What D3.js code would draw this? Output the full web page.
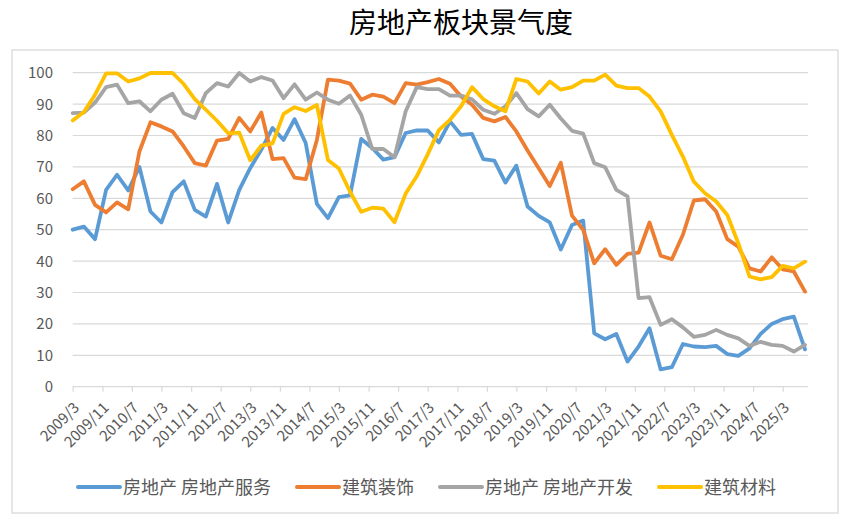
<!DOCTYPE html>
<html>
<head>
<meta charset="utf-8">
<script src="https://cdn.jsdelivr.net/npm/d3@7"></script>
<style>
  body { margin: 0; background: #fff; }
  text { font-family: "Noto Sans CJK SC", "Noto Sans", sans-serif; }
</style>
</head>
<body>
<div id="chart"></div>
<script>
// 房地产板块景气度 - quarterly readings, 2009/3 .. 2025/9
var title = "房地产板块景气度"
var startMonth = "2009/3"

var seriesNames = ["房地产 房地产服务", "建筑装饰", "房地产 房地产开发", "建筑材料"]
var seriesColors = ["#5b9bd5", "#ed7d31", "#a5a5a5", "#ffc000"]

var realEstateService = [50, 51, 47, 62.7, 67.5, 62.5, 70, 55.8, 52.3, 62, 65.4, 56.3, 54.2, 64.6, 52.3, 62.7, 69.6,
    75.5, 82.4, 78.6, 85.2, 77.6, 58.2, 53.7, 60.4, 60.9, 78.9, 76, 72.3, 73.1, 80.8, 81.6, 81.6, 77.8, 84.5, 80.2,
    80.5, 72.5, 72, 65, 70.4, 57.4, 54.4, 52.3, 43.7, 51.5, 52.9, 17, 15.1, 16.8, 8, 12.8, 18.6, 5.5, 6.2, 13.6, 12.8,
    12.6, 13, 10.4, 9.8, 12.2, 16.8, 20, 21.5, 22.3, 11.9]
var construction = [62.9, 65.4, 57.9, 55.5, 58.7, 56.5, 74.9, 84.2, 82.9, 81.3, 76.5, 71.2, 70.4, 78.4, 78.9, 85.6, 81.3,
    87.3, 72.5, 72.8, 66.6, 66.1, 78.6, 97.8, 97.5, 96.5, 91.4, 93, 92.4, 90.3, 96.7, 96.2, 97, 98, 96.5, 92.4, 89.8,
    85.6, 84.5, 85.9, 81.3, 75.2, 69.6, 63.9, 71.3, 54.5, 50, 39.3, 43.8, 38.8, 42.3, 42.7, 52.3, 41.7, 40.6, 48.4,
    59.3, 59.7, 55.8, 47, 44.6, 37.7, 36.7, 41.2, 37.4, 36.7, 30.3]
var realEstateDev = [87.1, 87.3, 90.5, 95.4, 96.2, 90.3, 90.9, 87.7, 91.4, 93.3, 87.1, 85.6, 93.5, 96.7, 95.6, 99.9, 97.2,
    98.6, 97.5, 91.9, 96.3, 91.4, 93.7, 91.4, 90.1, 92.7, 86.6, 75.7, 75.7, 73.1, 87.7, 95.4, 94.8, 94.8, 92.7, 92.7,
    91.5, 88.2, 86.9, 89.3, 93.5, 88.4, 86.1, 89.8, 85.4, 81.5, 80.6, 71.2, 69.9, 62.7, 60.6, 28.2, 28.5, 19.7, 21.5,
    18.9, 15.9, 16.5, 18.1, 16.5, 15.4, 13, 14.3, 13.3, 13, 11.2, 13.3]
var buildingMaterials = [84.8, 87.5, 93, 99.8, 99.8, 97.2, 98.2, 99.9, 99.9, 99.9, 96.4, 91.6, 88.2, 84.7, 80.7, 80.9, 72.1,
    76.8, 77.5, 86.9, 89, 87.8, 89.7, 72.2, 69.5, 62.1, 55.7, 57, 56.7, 52.4, 61.5, 67, 74, 81.7, 85, 89.3, 95.4, 91.6,
    89.3, 87.7, 98, 97.2, 93.4, 97.2, 94.6, 95.4, 97.5, 97.5, 99.4, 95.9, 95.1, 95.1, 92.4, 87.7, 80.2, 73.3, 65.3,
    61.6, 59, 54.7, 45.7, 35.1, 34.2, 34.9, 38.5, 37.7, 39.8]

var tickLabels = ["2009/3", "2009/11", "2010/7", "2011/3", "2011/11", "2012/7", "2013/3", "2013/11", "2014/7",
    "2015/3", "2015/11", "2016/7", "2017/3", "2017/11", "2018/7", "2019/3", "2019/11", "2020/7", "2021/3",
    "2021/11", "2022/7", "2023/3", "2023/11", "2024/7", "2025/3"]
var yTicks = [0, 10, 20, 30, 40, 50, 60, 70, 80, 90, 100]

var allSeries = [realEstateService, construction, realEstateDev, buildingMaterials]

var svgSize = { width: 850, height: 520 }
var plot = { left: 72.7, right: 805, top: 72.7, bottom: 386.7, gridRight: 808 }

var parseMonth = d3.timeParse("%Y/%m")
var start = parseMonth(startMonth)
var dates = realEstateService.map((d, i) => d3.timeMonth.offset(start, 3 * i))

var svg = d3.select("#chart").append("svg")
    .attr("width", svgSize.width)
    .attr("height", svgSize.height)

// outer frame
svg.append("rect")
    .attr("x", 12).attr("y", 50)
    .attr("width", 826).attr("height", 463)
    .attr("fill", "none")
    .attr("stroke", "#d9d9d9")
    .attr("stroke-width", 1.3)

svg.append("text")
    .attr("x", 461).attr("y", 32.5)
    .attr("text-anchor", "middle")
    .attr("font-size", 28)
    .attr("fill", "#000")
    .text(title)

var xScale = d3.scaleTime()
    .domain([dates[0], dates[dates.length - 1]])
    .range([plot.left, plot.right])
var yScale = d3.scaleLinear()
    .domain([0, 100])
    .range([plot.bottom, plot.top])

// gridlines + y labels
var grid = svg.append("g")
grid.selectAll("line").data(yTicks.slice(1)).enter().append("line")
    .attr("x1", plot.left).attr("x2", plot.gridRight)
    .attr("y1", d => yScale(d)).attr("y2", d => yScale(d))
    .attr("stroke", "#d9d9d9")
    .attr("stroke-width", 1.2)

svg.append("g").selectAll("text").data(yTicks).enter().append("text")
    .attr("x", 53)
    .attr("y", d => yScale(d) + 5.5)
    .attr("text-anchor", "end")
    .attr("font-size", 15)
    .attr("fill", "#595959")
    .text(d => d)

// x axis
var xAxis = d3.axisBottom(xScale)
    .tickValues(tickLabels.map(parseMonth))
    .tickSize(5)
    .tickSizeOuter(0)
    .tickFormat((d, i) => tickLabels[i])

var xg = svg.append("g")
    .attr("transform", `translate(0, ${plot.bottom})`)
    .call(xAxis)
xg.select(".domain")
    .attr("d", `M${plot.left},0H${plot.gridRight}`)
    .attr("stroke", "#d9d9d9")
    .attr("stroke-width", 1.3)
xg.selectAll(".tick line").attr("stroke", "#d9d9d9").attr("stroke-width", 1.2)
xg.selectAll(".tick text")
    .attr("font-family", "'Noto Sans CJK SC', sans-serif")
    .attr("font-size", 15)
    .attr("fill", "#595959")
    .attr("text-anchor", "end")
    .attr("dy", null)
    .attr("y", null)
    .attr("transform", "translate(7, 22) rotate(-45)")

// lines
var line = d3.line()
    .x((d, i) => xScale(dates[i]))
    .y(d => yScale(d))

var lines = svg.append("g")
lines.selectAll("path").data(allSeries).enter().append("path")
    .attr("d", d => line(d))
    .attr("fill", "none")
    .attr("stroke", (d, i) => seriesColors[i])
    .attr("stroke-width", 3.8)
    .attr("stroke-linejoin", "round")
    .attr("stroke-linecap", "round")

// legend
var legend = svg.append("g")
var lx = 0
seriesNames.forEach((name, i) => {
    var item = legend.append("g").attr("transform", `translate(${lx}, 0)`)
    item.append("line")
        .attr("x1", 0).attr("x2", 42)
        .attr("y1", 0).attr("y2", 0)
        .attr("stroke", seriesColors[i])
        .attr("stroke-width", 4)
        .attr("stroke-linecap", "round")
    var t = item.append("text")
        .attr("x", 45).attr("y", 6.5)
        .attr("font-size", 18)
        .attr("fill", "#595959")
        .text(name)
    lx += 45 + t.node().getComputedTextLength() + 26
})
var legendWidth = lx - 26
legend.attr("transform", `translate(${427 - legendWidth / 2}, 487)`)
</script>
</body>
</html>
